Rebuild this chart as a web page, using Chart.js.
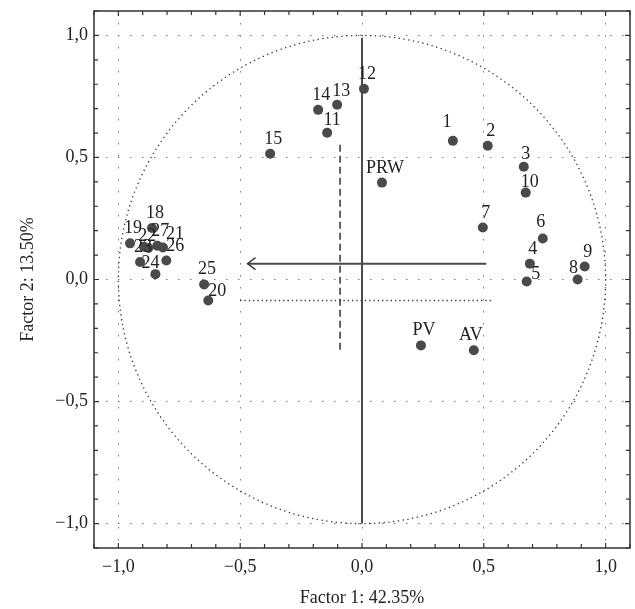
<!DOCTYPE html>
<html>
<head>
<meta charset="utf-8">
<script src="https://cdn.jsdelivr.net/npm/chart.js@4/dist/chart.umd.min.js"></script>
<style>
  html, body { margin: 0; background: #fff; }
  #wrap { width: 635px; height: 609px; }
</style>
</head>
<body>
<div id="wrap"><canvas id="chart"></canvas></div>
<script>
// --- data ---
const pointLabels = ['1','2','3','4','5','6','7','8','9','10',
  '11','12','13','14','15',
  '18','19','','22','27','21','23','26','24','25','20',
  'PRW','PV','AV'];
const factor1 = [0.373, 0.516, 0.664, 0.689, 0.676, 0.742, 0.496, 0.885, 0.914, 0.672,
  -0.143, 0.008, -0.102, -0.180, -0.377,
  -0.862, -0.952, -0.895, -0.877, -0.840, -0.817, -0.911, -0.803, -0.848, -0.648, -0.631,
  0.082, 0.242, 0.459];
const factor2 = [0.568, 0.548, 0.462, 0.065, -0.008, 0.168, 0.213, 0.000, 0.053, 0.356,
  0.601, 0.781, 0.716, 0.695, 0.515,
  0.211, 0.148, 0.134, 0.129, 0.138, 0.131, 0.072, 0.078, 0.022, -0.020, -0.086,
  0.397, -0.270, -0.290];

// helper lines (data units)
const axisLineX = [0, 0],        axisLineY = [0.99, -1.0];
const arrowX = [0.51, -0.47],    arrowY = [0.065, 0.065];
const dashX = [-0.09, -0.09],    dashY = [0.552, -0.294];
const dotX = [-0.5, 0.53],       dotY = [-0.086, -0.086];

const axisMin = -1.1, axisMax = 1.1, minorStep = 0.1;

// label nudges in px (default is slightly above-right)
const labelNudge = {
  '1': [-6, -20], '3': [2, -14], '5': [9, -8], '6': [-2, -17], '8': [-4, -13],
  '10': [4, -12], '11': [5, -14], '13': [4, -15], '20': [9, -10], '21': [12, -15],
  '22': [-1, -13], '24': [-5, -12], '26': [9, -15], 'AV': [-3, -16]
};

const FONT = '"Liberation Serif", "DejaVu Serif", serif';
const INK = '#4a4a4a';

const isMajor = v => Math.abs(v * 2 - Math.round(v * 2)) < 1e-6;
const fmt = v => (v < -1e-9 ? '\u2212' : '') + Math.abs(v).toFixed(1).replace('.', ',');
const pairs = (xs, ys) => xs.map((x, i) => ({ x, y: ys[i] }));

const decor = {
  id: 'decor',
  beforeDatasetsDraw(chart) {
    const { ctx, scales: { x, y } } = chart;
    ctx.save();
    // unit circle, dotted
    const cx = x.getPixelForValue(0), cy = y.getPixelForValue(0);
    const rx = x.getPixelForValue(1) - cx, ry = cy - y.getPixelForValue(1);
    ctx.beginPath();
    ctx.ellipse(cx, cy, rx, ry, 0, 0, Math.PI * 2);
    ctx.setLineDash([1.3, 3.5]);
    ctx.strokeStyle = '#333';
    ctx.lineWidth = 1.3;
    ctx.stroke();
    ctx.restore();
  },
  afterDatasetsDraw(chart) {
    const { ctx, chartArea: a, scales: { x, y } } = chart;
    ctx.save();
    // arrow head at the end of the arrow line
    const ax = x.getPixelForValue(arrowX[1]), ay = y.getPixelForValue(arrowY[1]);
    ctx.beginPath();
    ctx.moveTo(ax + 8, ay - 6);
    ctx.lineTo(ax, ay);
    ctx.lineTo(ax + 8, ay + 6);
    ctx.strokeStyle = '#333';
    ctx.lineWidth = 1.3;
    ctx.stroke();

    // frame
    ctx.strokeStyle = '#333';
    ctx.lineWidth = 1.5;
    ctx.strokeRect(a.left, a.top, a.right - a.left, a.bottom - a.top);

    // inward ticks on all four sides
    ctx.lineWidth = 1.2;
    ctx.beginPath();
    x.ticks.forEach(t => {
      const px = x.getPixelForValue(t.value), len = isMajor(t.value) ? 5 : 4;
      ctx.moveTo(px, a.bottom); ctx.lineTo(px, a.bottom - len);
      ctx.moveTo(px, a.top); ctx.lineTo(px, a.top + len);
    });
    y.ticks.forEach(t => {
      const py = y.getPixelForValue(t.value), len = isMajor(t.value) ? 5 : 4;
      ctx.moveTo(a.left, py); ctx.lineTo(a.left + len, py);
      ctx.moveTo(a.right, py); ctx.lineTo(a.right - len, py);
    });
    ctx.stroke();

    // point labels
    ctx.fillStyle = '#222';
    ctx.font = '18px ' + FONT;
    ctx.textAlign = 'center';
    ctx.textBaseline = 'alphabetic';
    const meta = chart.getDatasetMeta(0);
    meta.data.forEach((el, i) => {
      const lab = pointLabels[i];
      if (!lab) return;
      const [dx, dy] = labelNudge[lab] || [3, -16];
      ctx.fillText(lab, el.x + dx, el.y + dy + 6);
    });
    ctx.restore();
  }
};

const lineDs = (xs, ys, extra) => ({
  type: 'line', data: pairs(xs, ys), showLine: true, pointRadius: 0,
  borderColor: INK, borderWidth: 2, fill: false, ...extra
});

new Chart(document.getElementById('chart'), {
  type: 'scatter',
  data: {
    datasets: [
      { data: pairs(factor1, factor2), pointRadius: 5, pointHoverRadius: 5,
        backgroundColor: INK, borderWidth: 0 },
      lineDs(axisLineX, axisLineY, {}),
      lineDs(arrowX, arrowY, {}),
      lineDs(dashX, dashY, { borderColor: '#333', borderWidth: 1.5, borderDash: [7, 4] }),
      lineDs(dotX, dotY, { borderColor: '#333', borderWidth: 1.3, borderDash: [1.3, 3] })
    ]
  },
  options: {
    responsive: true,
    maintainAspectRatio: false,
    animation: false,
    layout: { padding: { top: 11, right: 3, left: 0, bottom: 0 } },
    plugins: { legend: { display: false }, tooltip: { enabled: false } },
    scales: {
      x: {
        type: 'linear', min: axisMin, max: axisMax,
        afterFit: s => { s.height = 61; s.paddingLeft = 0; s.paddingRight = 0; },
        ticks: { stepSize: minorStep, autoSkip: false, maxRotation: 0, padding: 8,
          color: '#222', font: { family: FONT, size: 18 },
          callback: v => isMajor(v) ? fmt(v) : '' },
        grid: { drawTicks: false,
          color: c => (c.tick && isMajor(c.tick.value)) ? '#777' : 'rgba(0,0,0,0)' },
        border: { display: false, dash: [1.5, 10.5] },
        title: { display: true, text: 'Factor 1: 42.35%', color: '#222',
          font: { family: FONT, size: 18 }, padding: { top: 0, bottom: 0 } }
      },
      y: {
        type: 'linear', min: axisMin, max: axisMax,
        afterFit: s => { s.width = 94; s.paddingTop = 0; s.paddingBottom = 0; },
        ticks: { stepSize: minorStep, autoSkip: false, padding: 6,
          color: '#222', font: { family: FONT, size: 18 },
          callback: v => isMajor(v) ? fmt(v) : '' },
        grid: { drawTicks: false,
          color: c => (c.tick && isMajor(c.tick.value)) ? '#777' : 'rgba(0,0,0,0)' },
        border: { display: false, dash: [1.5, 10.5] },
        title: { display: true, text: 'Factor 2: 13.50%', color: '#222',
          font: { family: FONT, size: 18 }, padding: { top: 17, bottom: 0 } }
      }
    }
  },
  plugins: [decor]
});
</script>
</body>
</html>
